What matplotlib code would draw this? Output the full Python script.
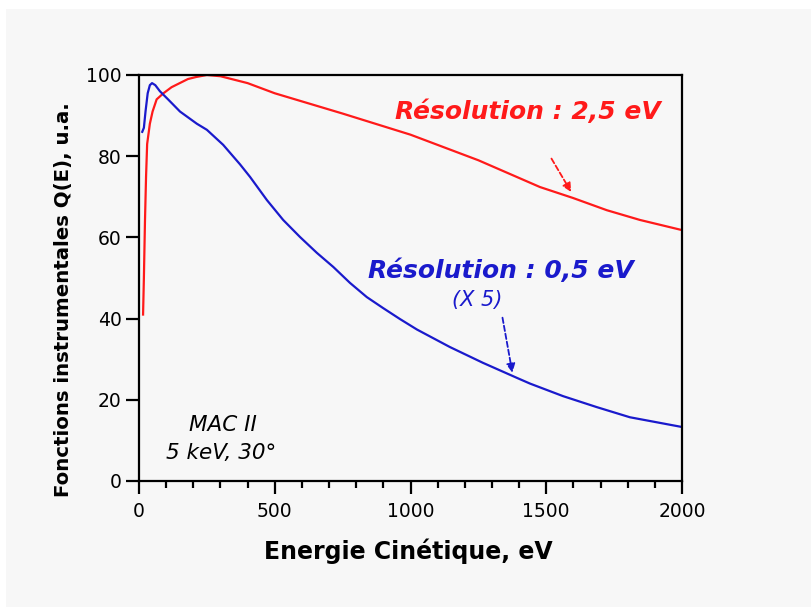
import matplotlib
matplotlib.use("Agg")
import matplotlib.pyplot as plt
from matplotlib.patches import Rectangle
from matplotlib.ticker import MultipleLocator

# Résolution 2,5 eV (rouge)
e_red = [15, 18, 22, 26, 30, 40, 50, 65, 90, 120, 150, 180, 210, 250, 300, 400,
         500, 750, 1000, 1250, 1477, 1599, 1723, 1845, 2000]
q_red = [41, 50, 64, 75, 83, 88, 91, 94, 95.5, 97, 98, 99, 99.5, 100, 99.7, 98,
         95.5, 90.5, 85.3, 79, 72.4, 69.7, 66.7, 64.3, 61.8]

# Résolution 0,5 eV (x5, bleu)
e_blue = [12, 18, 24, 32, 40, 48, 60, 77, 107, 151, 213, 250, 310, 372, 409, 471,
          531, 593, 655, 716, 777, 839, 899, 961, 1024, 1145, 1267, 1392, 1440,
          1562, 1686, 1808, 2000]
q_blue = [86, 87, 91, 95.5, 97.5, 98, 97.5, 96, 94, 91, 88, 86.5, 82.8, 78.0, 74.9,
          69.2, 64.3, 60.1, 56.2, 52.7, 48.8, 45.3, 42.6, 39.9, 37.3, 33.0, 29.1,
          25.4, 24.0, 20.9, 18.2, 15.7, 13.3]

bg = "#f7f7f7"
fig = plt.figure(figsize=(8.11, 6.07), dpi=100, facecolor="white")
fig.patches.append(Rectangle((6 / 811, 0), 1, 1 - 9 / 607, transform=fig.transFigure,
                             facecolor=bg, edgecolor="none", zorder=-10))
ax = fig.add_axes([139 / 811, 1 - 481 / 607, 543 / 811, 406 / 607])
ax.set_facecolor(bg)

ax.plot(e_red, q_red, color="#ff1a1a", lw=1.6)
ax.plot(e_blue, q_blue, color="#1a1acc", lw=1.6)

ax.set_xlim(0, 2000)
ax.set_ylim(0, 100)
ax.xaxis.set_major_locator(MultipleLocator(500))
ax.xaxis.set_minor_locator(MultipleLocator(100))
ax.yaxis.set_major_locator(MultipleLocator(20))
for s in ax.spines.values():
    s.set_linewidth(1.6)
ax.tick_params(axis="both", which="major", direction="out", width=1.6, labelsize=13.5)
ax.tick_params(axis="x", which="major", length=9, pad=6)
ax.tick_params(axis="y", which="major", length=9.5, pad=3)
ax.tick_params(axis="x", which="minor", direction="out", length=5, width=1.6)

fig.text(408 / 811, 1 - 551 / 607, "Energie Cinétique, eV", fontsize=17,
         fontweight="bold", ha="center", va="center")
fig.text(64 / 811, 1 - 300 / 607, "Fonctions instrumentales Q(E), u.a.", fontsize=14.2,
         fontweight="bold", rotation=90, ha="center", va="center")

ax.text(1433, 90.9, "Résolution : 2,5 eV", color="#ff1a1a", fontsize=18,
        fontweight="bold", style="italic", ha="center", va="center")
ax.annotate("", xy=(1597, 70.6), xytext=(1514, 80),
            arrowprops=dict(arrowstyle="-|>", color="#ff1a1a", lw=1.3, ls=(0, (3, 1.5)),
                            mutation_scale=13))

ax.text(1333, 51.7, "Résolution : 0,5 eV", color="#1a1acc", fontsize=18,
        fontweight="bold", style="italic", ha="center", va="center")
ax.text(1245, 44.6, "(X 5)", color="#1a1acc", fontsize=15, style="italic",
        ha="center", va="center")
ax.annotate("", xy=(1377, 26), xytext=(1337, 40.9),
            arrowprops=dict(arrowstyle="-|>", color="#1a1acc", lw=1.3, ls=(0, (3, 1.5)),
                            mutation_scale=13))

ax.text(310, 13.8, "MAC II", fontsize=15.5, style="italic", ha="center", va="center")
ax.text(302, 6.9, "5 keV, 30°", fontsize=15.5, style="italic", ha="center", va="center")

fig.savefig("out.png", dpi=100, facecolor=fig.get_facecolor())
